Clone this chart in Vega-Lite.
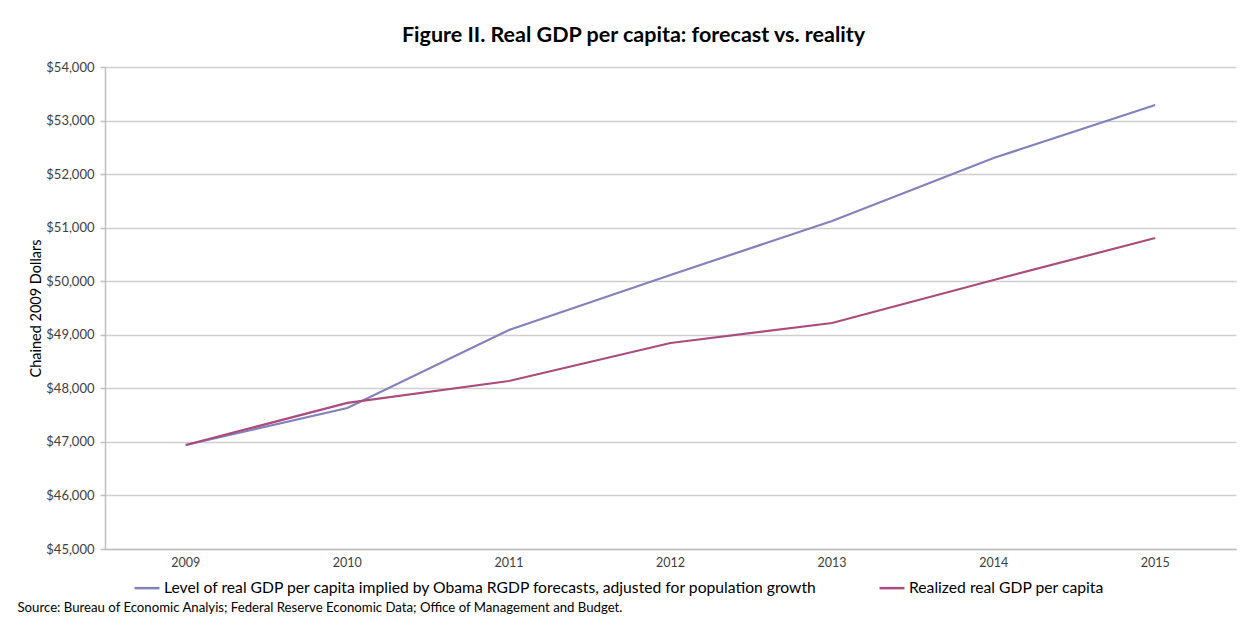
{
  "$schema": "https://vega.github.io/schema/vega-lite/v6.json",
  "width": 1131,
  "height": 482,
  "autosize": {"type": "none"},
  "padding": {"left": 105, "top": 67, "right": 16, "bottom": 71},
  "background": "white",
  "title": {
    "text": "Figure II. Real GDP per capita: forecast vs. reality",
    "font": "Lato",
    "fontSize": 21.5,
    "fontWeight": "bold",
    "color": "#000000",
    "anchor": "middle",
    "dx": -37,
    "offset": 15
  },
  "config": {
    "view": {"stroke": null},
    "font": "Lato"
  },
  "data": {
    "values": [
      {"year": "2009", "series": "Level of real GDP per capita implied by Obama RGDP forecasts, adjusted for population growth", "value": 46942},
      {"year": "2010", "series": "Level of real GDP per capita implied by Obama RGDP forecasts, adjusted for population growth", "value": 47633},
      {"year": "2011", "series": "Level of real GDP per capita implied by Obama RGDP forecasts, adjusted for population growth", "value": 49090},
      {"year": "2012", "series": "Level of real GDP per capita implied by Obama RGDP forecasts, adjusted for population growth", "value": 50117},
      {"year": "2013", "series": "Level of real GDP per capita implied by Obama RGDP forecasts, adjusted for population growth", "value": 51125},
      {"year": "2014", "series": "Level of real GDP per capita implied by Obama RGDP forecasts, adjusted for population growth", "value": 52301},
      {"year": "2015", "series": "Level of real GDP per capita implied by Obama RGDP forecasts, adjusted for population growth", "value": 53291},
      {"year": "2009", "series": "Realized real GDP per capita", "value": 46942},
      {"year": "2010", "series": "Realized real GDP per capita", "value": 47727},
      {"year": "2011", "series": "Realized real GDP per capita", "value": 48137},
      {"year": "2012", "series": "Realized real GDP per capita", "value": 48847},
      {"year": "2013", "series": "Realized real GDP per capita", "value": 49220},
      {"year": "2014", "series": "Realized real GDP per capita", "value": 50023},
      {"year": "2015", "series": "Realized real GDP per capita", "value": 50807}
    ]
  },
  "mark": {"type": "line", "strokeWidth": 2.2},
  "encoding": {
    "x": {
      "field": "year",
      "type": "ordinal",
      "scale": {"type": "band", "paddingInner": 0, "paddingOuter": 0},
      "axis": {
        "title": "Source: Bureau of Economic Analyis; Federal Reserve Economic Data; Office of Management and Budget.",
        "titleFont": "Lato",
        "titleFontSize": 13.2,
        "titleFontWeight": "normal",
        "titleColor": "#000000",
        "titleAnchor": "start",
        "titleAlign": "left",
        "titleBaseline": "alphabetic",
        "titleX": -88,
        "titleY": 62,
        "labelAngle": 0,
        "labelFontSize": 12.5,
        "labelColor": "#404040",
        "labelPadding": 7,
        "ticks": false,
        "domainColor": "#bfbfbf",
        "domainWidth": 1.5,
        "grid": false
      }
    },
    "y": {
      "field": "value",
      "type": "quantitative",
      "scale": {"domain": [45000, 54000], "nice": false, "zero": false},
      "axis": {
        "title": "Chained 2009 Dollars",
        "titleFont": "Lato",
        "titleFontSize": 14.5,
        "titleFontWeight": "normal",
        "titleColor": "#000000",
        "titlePadding": 2,
        "values": [45000, 46000, 47000, 48000, 49000, 50000, 51000, 52000, 53000, 54000],
        "format": "$,.0f",
        "labelFontSize": 13,
        "labelColor": "#404040",
        "labelPadding": 6,
        "tickSize": 5,
        "tickColor": "#bfbfbf",
        "tickWidth": 1.5,
        "domainColor": "#bfbfbf",
        "domainWidth": 1.5,
        "grid": true,
        "gridColor": "#cfcfcf",
        "gridWidth": 1.5
      }
    },
    "color": {
      "field": "series",
      "type": "nominal",
      "scale": {
        "domain": ["Level of real GDP per capita implied by Obama RGDP forecasts, adjusted for population growth", "Realized real GDP per capita"],
        "range": ["#8282BC", "#AA4C7C"]
      },
      "legend": {
        "title": null,
        "orient": "none",
        "direction": "horizontal",
        "legendX": 28,
        "legendY": 507,
        "symbolType": "stroke",
        "symbolSize": 625,
        "symbolStrokeWidth": 2.5,
        "labelFontSize": 15.7,
        "labelColor": "#000000",
        "labelOffset": 3,
        "labelLimit": 900,
        "columnPadding": 55
      }
    }
  }
}
